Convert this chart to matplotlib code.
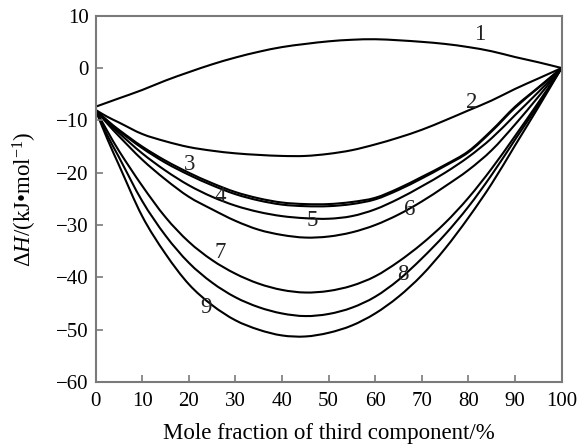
import matplotlib
matplotlib.use("Agg")
import matplotlib.pyplot as plt
from matplotlib.path import Path
from matplotlib.patches import PathPatch

plt.rcParams['font.family'] = ['Liberation Serif', 'DejaVu Serif']
plt.rcParams['mathtext.fontset'] = 'custom'
plt.rcParams['mathtext.rm'] = 'Liberation Serif'
plt.rcParams['mathtext.it'] = 'Liberation Serif:italic'

x = [0, 2.5, 5, 10, 15, 20, 25, 30, 35, 40, 45, 50, 55, 60, 65, 70, 75, 80, 85, 90, 95, 100]

curve1 = [-7.4, -6.6, -5.8, -4.2, -2.4, -0.8, 0.7, 2.0, 3.1, 4.0, 4.6, 5.1, 5.4, 5.5, 5.3, 5.0, 4.6, 4.0, 3.2, 2.1, 1.1, 0]
curve2 = [-8.0, -9.3, -10.4, -12.6, -14.0, -15.1, -15.8, -16.3, -16.6, -16.8, -16.8, -16.4, -15.7, -14.6, -13.3, -11.8, -10.0, -8.1, -6.2, -4.0, -2.0, 0]
curve3 = [-8.0, -10.0, -11.8, -15.0, -17.7, -20.0, -22.0, -23.7, -24.9, -25.7, -26.0, -26.0, -25.6, -24.8, -23.0, -20.8, -18.5, -15.9, -11.9, -7.4, -3.7, 0]
curve4 = [-8.0, -10.1, -12.0, -15.3, -18.1, -20.4, -22.4, -24.1, -25.3, -26.1, -26.4, -26.4, -26.0, -25.1, -23.3, -21.1, -18.7, -16.1, -12.1, -7.6, -3.8, 0]
curve5 = [-8.0, -10.3, -12.4, -16.3, -19.6, -22.4, -24.6, -26.3, -27.5, -28.3, -28.7, -28.8, -28.3, -27.0, -25.0, -22.6, -20.0, -17.0, -13.4, -9.0, -4.6, 0]
curve6 = [-8.0, -10.6, -13.0, -17.5, -21.3, -24.6, -27.0, -29.2, -30.9, -31.9, -32.4, -32.2, -31.4, -30.0, -28.0, -25.5, -22.6, -19.5, -15.7, -10.8, -5.5, 0]
curve7 = [-8.0, -12.0, -15.8, -22.5, -28.5, -33.2, -36.7, -39.3, -41.2, -42.4, -42.9, -42.6, -41.6, -39.8, -37.0, -33.6, -29.6, -24.8, -19.2, -13.0, -6.6, 0]
curve8 = [-8.0, -12.8, -17.0, -25.4, -32.0, -37.2, -41.0, -43.8, -45.7, -46.9, -47.4, -47.0, -45.8, -43.7, -40.5, -36.4, -31.8, -26.5, -20.4, -13.7, -7.0, 0]
curve9 = [-8.0, -13.5, -18.5, -28.3, -35.5, -41.3, -45.3, -48.2, -50.0, -51.1, -51.3, -50.6, -49.2, -46.9, -43.7, -39.6, -34.5, -28.6, -22.1, -14.8, -7.5, 0]

curves = [curve1, curve2, curve3, curve4, curve5, curve6, curve7, curve8, curve9]
labels = ['1', '2', '3', '4', '5', '6', '7', '8', '9']
label_x = [82.5, 80.7, 20.2, 26.7, 46.4, 67.4, 26.7, 66.0, 23.8]
label_y = [6.5, -6.6, -18.4, -24.5, -29.2, -27.0, -35.3, -39.4, -45.8]

xticks = [0, 10, 20, 30, 40, 50, 60, 70, 80, 90, 100]
yticks = [-60, -50, -40, -30, -20, -10, 0, 10]


def smooth_path(xs, ys):
    """Cubic Bezier path through the data points (Hermite tangents)."""
    n = len(xs)
    slopes = []
    for i in range(n):
        if i == 0:
            s = (ys[1] - ys[0]) / (xs[1] - xs[0])
        elif i == n - 1:
            s = (ys[-1] - ys[-2]) / (xs[-1] - xs[-2])
        else:
            s = (ys[i + 1] - ys[i - 1]) / (xs[i + 1] - xs[i - 1])
        slopes.append(s)
    verts = [(xs[0], ys[0])]
    codes = [Path.MOVETO]
    for i in range(n - 1):
        h = xs[i + 1] - xs[i]
        verts.append((xs[i] + h / 3, ys[i] + slopes[i] * h / 3))
        verts.append((xs[i + 1] - h / 3, ys[i + 1] - slopes[i + 1] * h / 3))
        verts.append((xs[i + 1], ys[i + 1]))
        codes += [Path.CURVE4] * 3
    return Path(verts, codes)


fig = plt.figure(figsize=(5.79, 4.47), dpi=100)
ax = fig.add_axes([0.165, 0.1454, 0.805, 0.8195])

for c in curves:
    ax.add_patch(PathPatch(smooth_path(x, c), fill=False, edgecolor='black',
                           lw=1.5, capstyle='round', joinstyle='round'))

for lab, lx, ly in zip(labels, label_x, label_y):
    ax.text(lx, ly, lab, fontsize=16.5, ha='center', va='center', color='#222222')

ax.set_xlim(0, 100)
ax.set_ylim(-60, 10)
ax.set_xticks(xticks)
ax.set_yticks(yticks)
ax.tick_params(direction='in', length=5, width=1.2, color='#7a7a7a', labelsize=15,
               top=False, right=False)
ax.tick_params(axis='x', pad=7)
ax.tick_params(axis='y', pad=5)
for s in ax.spines.values():
    s.set_color('#7a7a7a')
    s.set_linewidth(1.5)

ax.set_xlabel('Mole fraction of third component/%', fontsize=16.5, labelpad=9)
ax.set_ylabel(r'$\Delta\mathit{H}$/(kJ•mol$^{-1}$)', fontsize=16.5, labelpad=12)

fig.savefig('out.png', dpi=100)
